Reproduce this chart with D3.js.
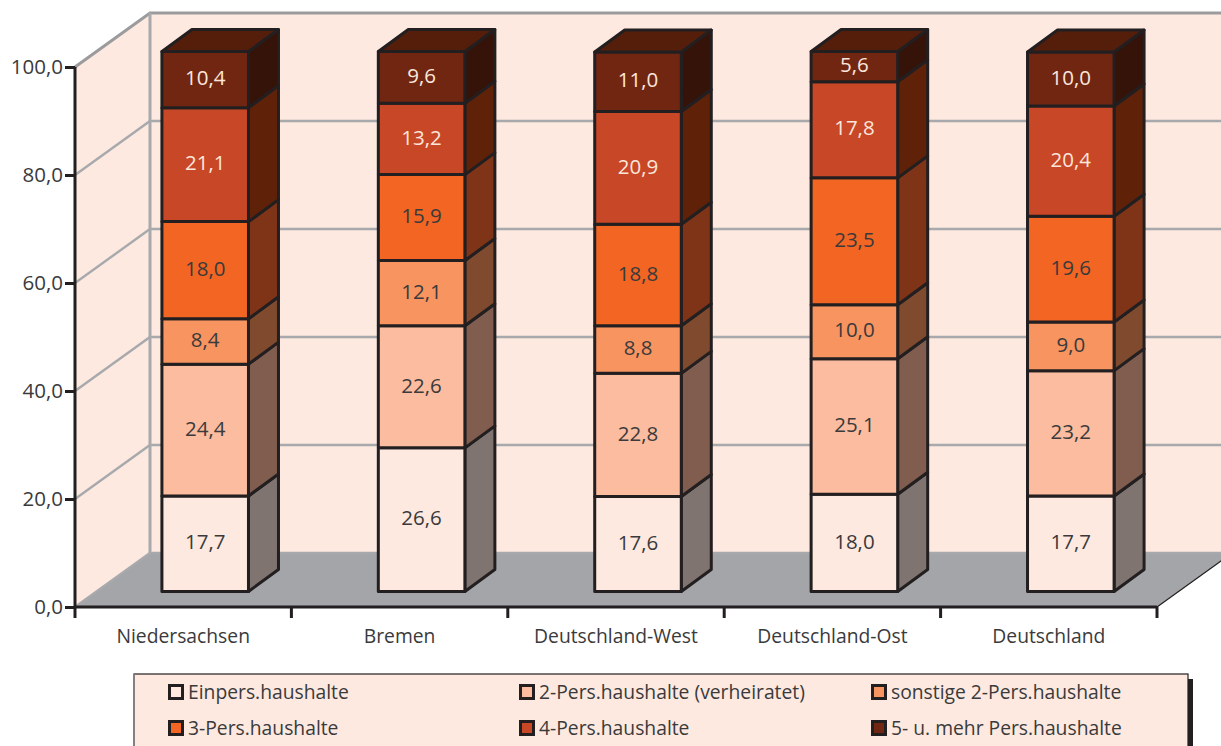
<!DOCTYPE html>
<html lang="de">
<head>
<meta charset="utf-8">
<title>Haushaltsgrößen</title>
<script src="https://cdn.jsdelivr.net/npm/d3@7/dist/d3.min.js"></script>
<style>
  html, body { margin: 0; padding: 0; background: #fff; overflow: hidden; }
  svg { display: block; }
  text { font-family: "Open Sans", "Noto Sans", sans-serif; fill: #3a3a3c; }
</style>
</head>
<body>
<svg id="chart" width="1221" height="746"></svg>
<script>
// Household shares in percent, one array per household size, bottom to top.
const regions = ["Niedersachsen", "Bremen", "Deutschland-West", "Deutschland-Ost", "Deutschland"];
const seriesNames = [
  "Einpers.haushalte", "2-Pers.haushalte (verheiratet)", "sonstige 2-Pers.haushalte",
  "3-Pers.haushalte", "4-Pers.haushalte", "5- u. mehr Pers.haushalte"
];
const onePerson   = [17.7, 26.6, 17.6, 18.0, 17.7];
const twoMarried  = [24.4, 22.6, 22.8, 25.1, 23.2];
const twoOther    = [8.4, 12.1, 8.8, 10.0, 9.0];
const threePerson = [18.0, 15.9, 18.8, 23.5, 19.6];
const fourPerson  = [21.1, 13.2, 20.9, 17.8, 20.4];
const fivePlus    = [10.4, 9.6, 11.0, 5.6, 10.0];
const seriesValues = [onePerson, twoMarried, twoOther, threePerson, fourPerson, fivePlus];

const frontColors = ["#fde9df", "#fbbc9f", "#f79460", "#f26522", "#c84726", "#712612"];
const sideColors  = ["#7f7470", "#805d4e", "#7f4a2e", "#7f3418", "#5f2209", "#361309"];
const topColor = "#541e0a";
const labelColors = ["#3a3a3c", "#3a3a3c", "#3a3a3c", "#3a3a3c", "#fbe6dc", "#fbe6dc"];
const yTicks = [0, 20, 40, 60, 80, 100];

const ink = "#231f20", wallFill = "#fde9df", gridGrey = "#a7a9ac", floorGrey = "#a4a5a9";

const svg = d3.select("#chart");
const x = d3.scaleBand().domain(regions).range([75, 1157]).paddingInner(0.6).paddingOuter(0.3);
const y = d3.scaleLinear().domain([0, 100]).range([607, 67]);
const fmt = d => d3.format(".1f")(d).replace(".", ",");

// Oblique projection: wall depth, bar depth and the shift of a bar into the box.
const wallDx = 75, wallDy = -54;
const barDx = 30, barDy = -22;
const insetDx = 22, insetDy = -15.5;
const right = 1221;
const path = pts => "M" + pts.map(p => p.join(",")).join("L") + "Z";

// Walls and floor of the box
const x0 = x.range()[0], x1 = x.range()[1], yBase = y(0), yTop = y(100);
svg.append("path").attr("fill", wallFill)
  .attr("d", path([[x0, yBase], [x0, yTop], [x0 + wallDx, yTop + wallDy], [right, yTop + wallDy], [right, yBase + wallDy], [x0 + wallDx, yBase + wallDy]]));
svg.append("path").attr("fill", floorGrey)
  .attr("d", path([[x0, yBase], [x0 + wallDx, yBase + wallDy], [x1 + wallDx, yBase + wallDy], [x1, yBase]]));
svg.append("path").attr("fill", "none").attr("stroke", ink).attr("stroke-width", 1.2)
  .attr("d", `M${x1},${yBase}L${x1 + wallDx},${yBase + wallDy}`);

// Gridlines run along the side wall and across the back wall
svg.append("g").selectAll("path").data(yTicks).join("path")
  .attr("fill", "none")
  .attr("stroke", d => d === 100 ? "#9b9b9e" : gridGrey)
  .attr("stroke-width", d => d === 100 ? 3 : 2.4)
  .attr("d", d => `M${x0},${y(d)}L${x0 + wallDx},${y(d) + wallDy}L${right},${y(d) + wallDy}`);
svg.append("line")
  .attr("x1", x0 + wallDx).attr("x2", x0 + wallDx)
  .attr("y1", yTop + wallDy).attr("y2", yBase + wallDy)
  .attr("stroke", gridGrey).attr("stroke-width", 3);

// Stacked prisms, one group per region
const stack = d3.stack().keys(d3.range(seriesValues.length)).value((row, k) => row[k]);
const rows = regions.map((_, i) => seriesValues.map(s => s[i]));
const layers = stack(rows);

const bars = svg.append("g").selectAll("g").data(regions).join("g");
bars.each(function (region, i) {
  const g = d3.select(this);
  const left = x(region) + insetDx, w = x.bandwidth();
  const rightEdge = left + w;
  const segs = layers.map((layer, k) => ({ k, lo: layer[i][0], hi: layer[i][1], value: seriesValues[k][i] }));
  const line = { stroke: ink, "stroke-width": 3, "stroke-linejoin": "round" };
  const applyLine = sel => { Object.entries(line).forEach(([a, v]) => sel.attr(a, v)); return sel; };

  segs.forEach(s => {
    const yLo = y(s.lo) + insetDy, yHi = y(s.hi) + insetDy;
    applyLine(g.append("path")).attr("fill", sideColors[s.k])
      .attr("d", path([[rightEdge, yLo], [rightEdge + barDx, yLo + barDy], [rightEdge + barDx, yHi + barDy], [rightEdge, yHi]]));
    applyLine(g.append("rect")).attr("fill", frontColors[s.k])
      .attr("x", left).attr("y", yHi).attr("width", w).attr("height", yLo - yHi);
  });
  const top = segs[segs.length - 1];
  const yT = y(top.hi) + insetDy;
  applyLine(g.append("path")).attr("fill", topColor)
    .attr("d", path([[left, yT], [left + barDx, yT + barDy], [rightEdge + barDx, yT + barDy], [rightEdge, yT]]));
  segs.forEach(s => {
    g.append("text")
      .attr("x", left + w / 2)
      .attr("y", (y(s.lo) + y(s.hi)) / 2 + insetDy - 1.5)
      .attr("dy", "0.35em")
      .attr("text-anchor", "middle")
      .attr("font-size", 20.5)
      .style("fill", labelColors[s.k])
      .text(fmt(s.value));
  });
});

// Axes
const yAxis = d3.axisLeft(y).tickValues(yTicks).tickFormat(fmt).tickSize(10).tickPadding(2);
const xAxis = d3.axisBottom(x).tickSize(0).tickPadding(22);
const gy = svg.append("g").attr("transform", `translate(${x0},0)`).call(yAxis);
const gx = svg.append("g").attr("transform", `translate(0,${yBase})`).call(xAxis);
[gy, gx].forEach(g => {
  g.selectAll("path,line").attr("stroke", ink).attr("stroke-width", 3);
  g.selectAll("text").style("fill", "#3a3a3c");
  g.select(".domain").attr("fill", "none");
});
gy.selectAll(".tick text").attr("font-size", 20.5);
gy.select(".domain").attr("d", `M0,${yTop}V${yBase}`);
gx.select(".domain").attr("d", `M${x0},0H${x1}`);
gx.selectAll(".tick text").attr("font-size", 19.3);
// Category separators sit between the bands, not at their centres
gx.append("g").selectAll("line").data(d3.range(regions.length + 1)).join("line")
  .attr("x1", i => x0 + i * x.step()).attr("x2", i => x0 + i * x.step())
  .attr("y1", 0).attr("y2", 11)
  .attr("stroke", ink).attr("stroke-width", 3);

// Legend panel with its shadow strip
const legend = svg.append("g");
legend.append("rect").attr("x", 1188).attr("y", 679).attr("width", 5).attr("height", 70).attr("fill", ink);
legend.append("rect").attr("x", 134).attr("y", 674).attr("width", 1054).attr("height", 80)
  .attr("fill", wallFill).attr("stroke", ink).attr("stroke-width", 1.2);
legend.append("line").attr("x1", 134).attr("x2", 134).attr("y1", 674).attr("y2", 746)
  .attr("stroke", "#8a8384").attr("stroke-width", 1.6);

const legendCols = [168, 519, 871];
const legendRows = [692, 728];
const legendItems = legend.selectAll("g.item").data(seriesNames).join("g").attr("class", "item")
  .attr("transform", (d, i) => `translate(${legendCols[i % 3]},${legendRows[Math.floor(i / 3)]})`);
legendItems.append("rect")
  .attr("x", 1.5).attr("y", -6.5).attr("width", 13).attr("height", 13)
  .attr("fill", (d, i) => frontColors[i]).attr("stroke", ink).attr("stroke-width", 3);
legendItems.append("text")
  .attr("x", 20).attr("dy", "0.35em").attr("font-size", 19.3)
  .text(d => d);
</script>
</body>
</html>
